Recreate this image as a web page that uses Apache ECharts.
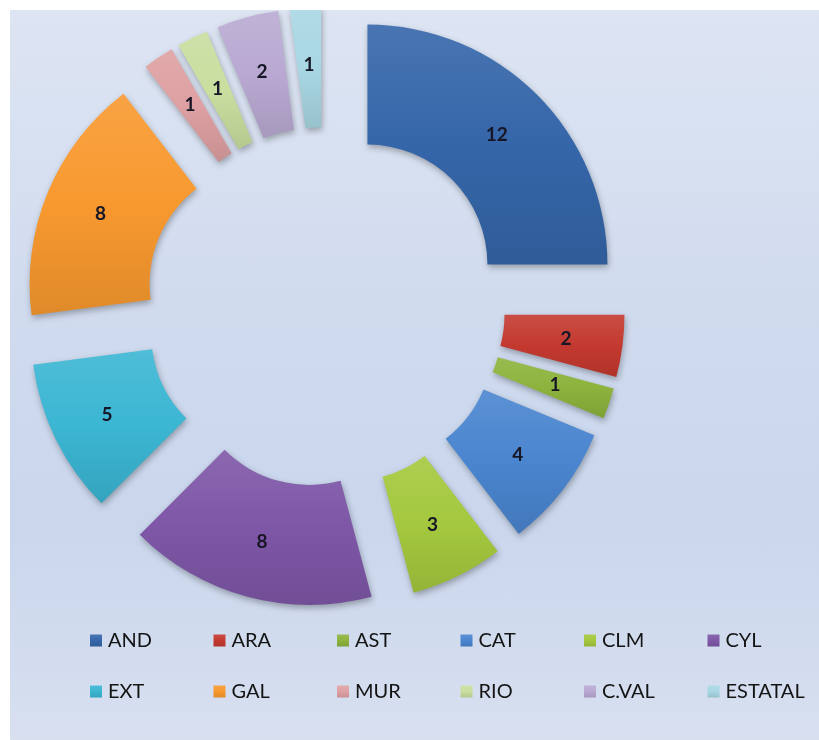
<!DOCTYPE html>
<html>
<head>
<meta charset="utf-8">
<script src="https://cdn.jsdelivr.net/npm/echarts@6/dist/echarts.min.js"></script>
<style>
  html, body { margin: 0; padding: 0; background: #ffffff; overflow: hidden; }
  #chart {
    position: absolute; left: 10px; top: 10px; width: 812px; height: 733px;
    background: linear-gradient(to bottom, #dde5f3 0%, #cfdaee 45%, #c9d6ec 70%, #d8e0f0 100%);
  }
</style>
</head>
<body>
<div id="chart"></div>
<script>
const categories = ['AND', 'ARA', 'AST', 'CAT', 'CLM', 'CYL', 'EXT', 'GAL', 'MUR', 'RIO', 'C.VAL', 'ESTATAL'];
const values = [12, 2, 1, 4, 3, 8, 5, 8, 1, 1, 2, 1];
const colors = ['#3566a9', '#c3392f', '#8db33d', '#4a85cf', '#a4c83e', '#7e57a7',
                '#3bb6d3', '#f8992f', '#dea0a2', '#c9de9f', '#b9a9d2', '#a8d7e3'];

function mix(hex, target, t) {
  const n = parseInt(hex.slice(1), 16);
  const r = (n >> 16) & 255, g = (n >> 8) & 255, b = n & 255;
  const f = c => Math.round(c + (target - c) * t);
  return 'rgb(' + f(r) + ',' + f(g) + ',' + f(b) + ')';
}
function grad(hex) {
  return {
    type: 'linear', x: 0, y: 0, x2: 0, y2: 1,
    colorStops: [
      { offset: 0, color: mix(hex, 255, 0.10) },
      { offset: 0.5, color: hex },
      { offset: 1, color: mix(hex, 0, 0.10) }
    ]
  };
}

const chart = echarts.init(document.getElementById('chart'), null, { renderer: 'canvas' });
chart.setOption({
  backgroundColor: 'transparent',
  animation: false,
  legend: {
    data: categories,
    orient: 'horizontal',
    left: 75,
    top: 610,
    width: 760,
    itemWidth: 12,
    itemHeight: 12,
    itemGap: 20,
    icon: 'rect',
    selectedMode: false,
    textStyle: {
      fontFamily: 'Lato',
      fontSize: 20,
      color: '#141414',
      width: 85.5,
      lineHeight: 31,
      padding: [0, 0, 0, 1]
    }
  },
  series: [{
    type: 'pie',
    center: [315, 297],
    radius: [120, 240],
    startAngle: 90,
    clockwise: true,
    selectedMode: 'multiple',
    selectedOffset: 60,
    avoidLabelOverlap: false,
    emphasis: { scale: false, disabled: true },
    label: {
      show: true,
      position: 'inside',
      formatter: '{c}',
      fontFamily: 'Lato',
      fontWeight: 'bold',
      fontSize: 19,
      color: '#161626'
    },
    labelLine: { show: false },
    itemStyle: {
      borderWidth: 0,
      shadowBlur: 6,
      shadowOffsetX: 1,
      shadowOffsetY: 3,
      shadowColor: 'rgba(0,0,0,0.3)'
    },
    data: categories.map((name, i) => ({
      name: name,
      value: values[i],
      selected: true,
      itemStyle: { color: grad(colors[i]) }
    }))
  }]
});
</script>
</body>
</html>
